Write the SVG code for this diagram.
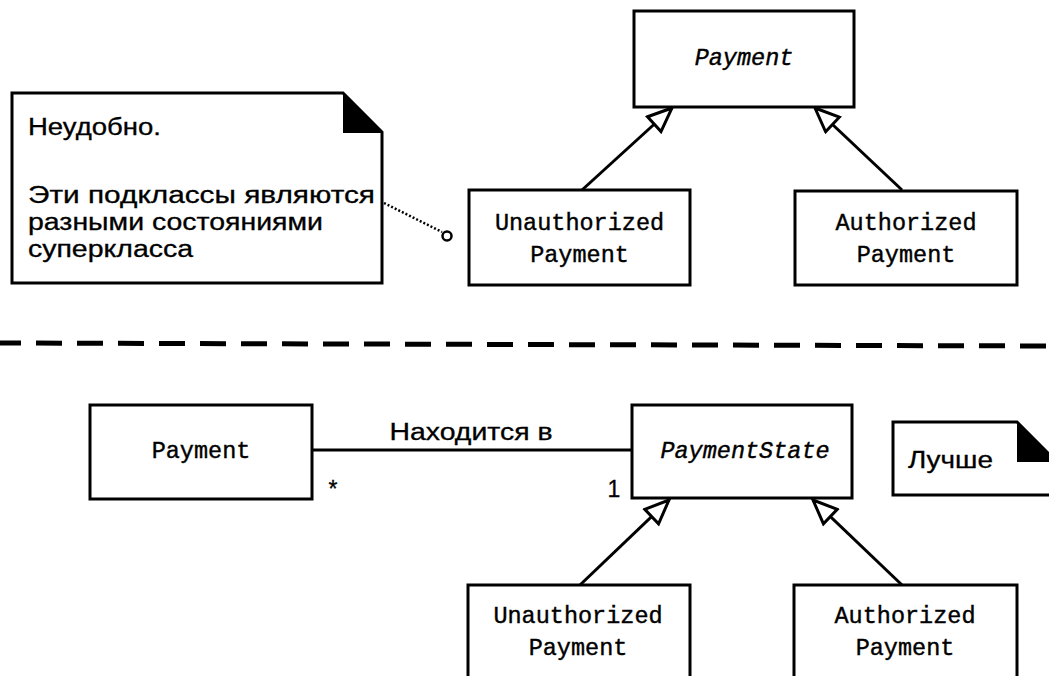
<svg xmlns="http://www.w3.org/2000/svg" width="1049" height="676" viewBox="0 0 1049 676">
  <style>
    .box { fill: #fff; stroke: #000; stroke-width: 3; }
    .note { fill: #fff; stroke: #000; stroke-width: 3; stroke-linejoin: miter; }
    .fold { fill: #000; }
    .mono { font-family: "Liberation Mono", "DejaVu Sans Mono", monospace; font-size: 23.5px; fill: #000; stroke: #000; stroke-width: 0.4; text-anchor: middle; }
    .ital { font-style: italic; }
    .sans { font-family: "Liberation Sans", Arial, sans-serif; font-size: 23px; fill: #000; stroke: #000; stroke-width: 0.3; }
    .edge { stroke: #000; stroke-width: 3; fill: none; }
    .gen { marker-end: url(#hollow); }
    .anchor { stroke: #000; stroke-width: 2.5; stroke-dasharray: 2 2; fill: none; }
    .divider { stroke: #000; stroke-width: 5; stroke-dasharray: 26 15; fill: none; }
  </style>
  <defs>
    <!-- hollow triangle for generalization -->
    <marker id="hollow" markerUnits="userSpaceOnUse" viewBox="0 0 28 24" refX="26" refY="12" markerWidth="28" markerHeight="24" orient="auto">
      <path d="M2,2 L26,12 L2,22 Z" fill="#fff" stroke="#000" stroke-width="3" stroke-linejoin="miter"/>
    </marker>
  </defs>

  <rect width="1049" height="676" fill="#fff"/>

  <!-- connectors -->
  <g id="connectors">
    <line class="edge gen" x1="582" y1="190" x2="672" y2="108"/>
    <line class="edge gen" x1="902" y1="190" x2="815" y2="108"/>
    <line class="anchor" x1="384" y1="203" x2="442" y2="232"/>
    <circle cx="447" cy="236" r="4.5" fill="#fff" stroke="#000" stroke-width="2.5"/>
    <line class="divider" x1="-5" y1="343" x2="1054" y2="346"/>
    <line class="edge" x1="312" y1="450" x2="632" y2="450"/>
    <text class="sans" x="471" y="440" text-anchor="middle" textLength="163" lengthAdjust="spacingAndGlyphs">Находится в</text>
    <text class="sans" x="333" y="497" text-anchor="middle" font-size="20">*</text>
    <text class="sans" x="614" y="497" text-anchor="middle" font-size="25">1</text>
    <line class="edge gen" x1="580" y1="585" x2="669" y2="500"/>
    <line class="edge gen" x1="902" y1="585" x2="813" y2="500"/>
  </g>

  <!-- upper variant -->
  <g id="payment-top">
    <rect class="box" x="634" y="11" width="220" height="96"/>
    <text class="mono ital" x="744" y="65">Payment</text>
  </g>
  <g id="unauthorized-top">
    <rect class="box" x="469" y="190" width="221" height="95"/>
    <text class="mono" x="579.5" y="230">Unauthorized</text>
    <text class="mono" x="579.5" y="262">Payment</text>
  </g>
  <g id="authorized-top">
    <rect class="box" x="795" y="191" width="222" height="94"/>
    <text class="mono" x="906" y="230">Authorized</text>
    <text class="mono" x="906" y="262">Payment</text>
  </g>
  <g id="note-top">
    <path class="note" d="M12,93 H343 L382,132 V283 H12 Z"/>
    <path class="fold" d="M343,93 L382,133 H343 Z"/>
    <text class="sans" x="28" y="135" textLength="133" lengthAdjust="spacingAndGlyphs">Неудобно.</text>
    <text class="sans" x="28" y="203" textLength="347" lengthAdjust="spacingAndGlyphs">Эти подклассы являются</text>
    <text class="sans" x="28" y="230" textLength="295" lengthAdjust="spacingAndGlyphs">разными состояниями</text>
    <text class="sans" x="28" y="257" textLength="165" lengthAdjust="spacingAndGlyphs">суперкласса</text>
  </g>

  <!-- lower variant -->
  <g id="payment-bottom">
    <rect class="box" x="90" y="405" width="222" height="94"/>
    <text class="mono" x="201" y="458">Payment</text>
  </g>
  <g id="payment-state">
    <rect class="box" x="632" y="405" width="220" height="93"/>
    <text class="mono ital" x="745" y="458">PaymentState</text>
  </g>
  <g id="note-bottom">
    <path class="note" d="M893,422 H1017 L1057,462 V495 H893 Z"/>
    <path class="fold" d="M1017,422 L1057,462 H1017 Z"/>
    <text class="sans" x="908" y="468" textLength="85" lengthAdjust="spacingAndGlyphs">Лучше</text>
  </g>
  <g id="unauthorized-bottom">
    <rect class="box" x="468" y="585" width="222" height="100"/>
    <text class="mono" x="578" y="623">Unauthorized</text>
    <text class="mono" x="578" y="655">Payment</text>
  </g>
  <g id="authorized-bottom">
    <rect class="box" x="794" y="585" width="223" height="100"/>
    <text class="mono" x="905" y="623">Authorized</text>
    <text class="mono" x="905" y="655">Payment</text>
  </g>
</svg>
